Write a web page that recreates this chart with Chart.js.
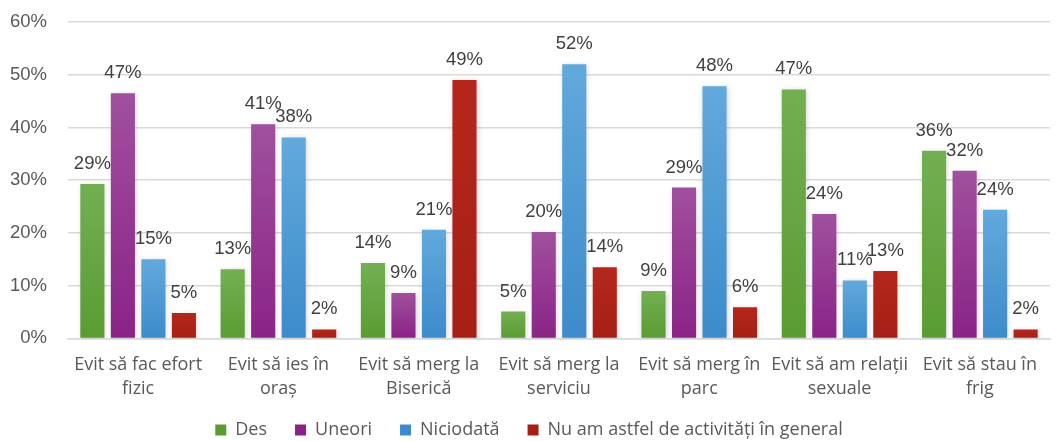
<!DOCTYPE html>
<html><head><meta charset="utf-8">
<script src="https://cdn.jsdelivr.net/npm/chart.js@4/dist/chart.umd.min.js"></script>
<style>html,body{margin:0;padding:0;background:#fff}#wrap{width:1058px;height:441px}</style>
</head><body><div id="wrap"><canvas id="c" width="1058" height="441"></canvas></div>
<script>
const categories = [
  ["Evit să fac efort","fizic"],
  ["Evit să ies în","oraș"],
  ["Evit să merg la","Biserică"],
  ["Evit să merg la","serviciu"],
  ["Evit să merg în","parc"],
  ["Evit să am relații","sexuale"],
  ["Evit să stau în","frig"]
];
const seriesNames = ["Des","Uneori","Niciodată","Nu am astfel de activități în general"];
const des = [29.3, 13.1, 14.3, 5.1, 9.0, 47.2, 35.6];
const uneori = [46.5, 40.6, 8.6, 20.2, 28.6, 23.6, 31.8];
const niciodata = [15.0, 38.1, 20.6, 52.0, 47.8, 11.0, 24.4];
const nuAm = [4.8, 1.7, 49.0, 13.5, 5.9, 12.8, 1.7];
const yTicks = [0,10,20,30,40,50,60];

const palette = [
  ["#73AF52","#5A9C33","#62A73B"],
  ["#A0509E","#8A2387","#982A95"],
  ["#62A9DC","#3D8BCB","#4A9FDB"],
  ["#B5271C","#A61F15","#B0231A"]
];
function grad(i){
  return function(ctx){
    const ch = ctx.chart;
    if(!ch.chartArea || !ch.scales.y || ctx.raw === undefined) return palette[i][2];
    const top = ch.scales.y.getPixelForValue(ctx.raw);
    const bot = ch.scales.y.getPixelForValue(0);
    if(!isFinite(top) || top>=bot) return palette[i][2];
    const g = ch.ctx.createLinearGradient(0, top, 0, bot);
    g.addColorStop(0, palette[i][0]);
    g.addColorStop(1, palette[i][1]);
    return g;
  };
}
const dataArrays = [des, uneori, niciodata, nuAm];
const datasets = dataArrays.map((d,i)=>({
  label: seriesNames[i], data: d, backgroundColor: grad(i), borderWidth: 0,
  categoryPercentage: 0.87, barPercentage: 0.79
}));

const shadowPlugin = {
  id:'shadow',
  beforeDatasetsDraw(chart){ const c=chart.ctx; c.save(); c.shadowColor='rgba(0,0,0,0.18)'; c.shadowBlur=5; c.shadowOffsetX=1; c.shadowOffsetY=1; },
  afterDatasetsDraw(chart){ chart.ctx.restore(); }
};
const legendShift = {
  id:'legendShift',
  afterLayout(chart){ const l = chart.legend; if(l){ l.top -= 22; l.bottom -= 22; } }
};
const labelPlugin = {
  id:'vlabels',
  afterDraw(chart){
    const c = chart.ctx; c.save();
    c.font = '18.5px "Liberation Sans", Arial, sans-serif';
    c.fillStyle = '#404040'; c.textAlign='center'; c.textBaseline='alphabetic';
    chart.data.datasets.forEach((ds,di)=>{
      const meta = chart.getDatasetMeta(di);
      meta.data.forEach((bar,j)=>{
        c.fillText(Math.round(ds.data[j]) + '%', bar.x, bar.y - 15);
      });
    });
    c.restore();
  }
};

new Chart(document.getElementById('c'), {
  type:'bar',
  data:{ labels: categories, datasets },
  options:{
    responsive:false, animation:false,
    layout:{ padding:{ left:8, right:8, top:22, bottom:-30 } },
    plugins:{
      tooltip:{enabled:false},
      legend:{ position:'bottom', labels:{ boxWidth:11, boxHeight:11, padding:28, color:'#595959',
        font:{ family:'"Open Sans", "Noto Sans", sans-serif', size:18 } } }
    },
    scales:{
      y:{ min:0, max:60, afterFit(s){ s.width = 60; },
        afterBuildTicks(s){ s.ticks = yTicks.map(v=>({value:v})); },
        border:{display:false},
        grid:{ color:'#d9d9d9', lineWidth:1.5, drawTicks:true, tickLength:21, tickColor:'rgba(0,0,0,0)' },
        ticks:{ padding:0, color:'#595959', font:{ family:'"Liberation Sans", Arial, sans-serif', size:18.5 },
          callback:v=>v+'%' } },
      x:{ border:{ display:true, color:'#d9d9d9', width:1.5 }, grid:{ display:false, drawTicks:false },
        ticks:{ color:'#595959', padding:14, maxRotation:0, autoSkip:false,
          font:{ family:'"Open Sans", "Noto Sans", sans-serif', size:18, lineHeight:1.35 } } }
    }
  },
  plugins:[shadowPlugin, legendShift, labelPlugin]
});
</script></body></html>
